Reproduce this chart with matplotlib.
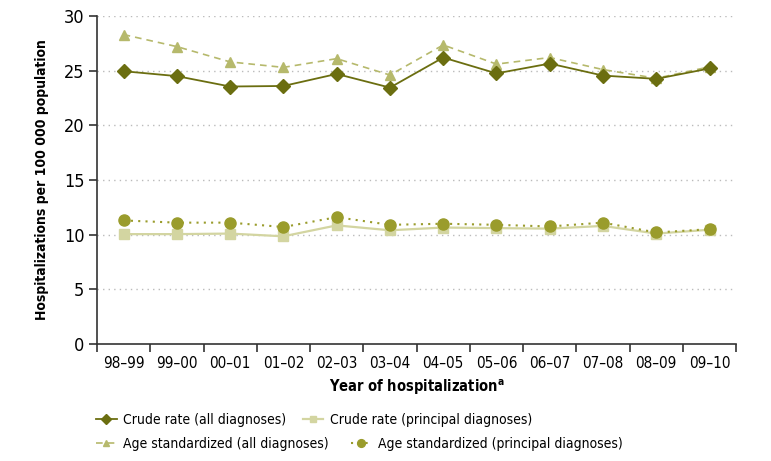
import numpy as np
import matplotlib
matplotlib.use("Agg")
import matplotlib.pyplot as plt

plt.rcParams['font.family'] = ['DejaVu Sans']
plt.rcParams['font.stretch'] = 'condensed'

years = ['98\u201399', '99\u201300', '00\u201301', '01\u201302', '02\u201303', '03\u201304',
         '04\u201305', '05\u201306', '06\u201307', '07\u201308', '08\u201309', '09\u201310']

crude_all = [24.95, 24.5, 23.55, 23.6, 24.7, 23.45, 26.2, 24.75, 25.65, 24.55, 24.25, 25.2]
crude_principal = [10.05, 10.05, 10.1, 9.85, 10.85, 10.4, 10.65, 10.6, 10.55, 10.8, 10.1, 10.45]
agestd_all = [28.3, 27.2, 25.8, 25.3, 26.1, 24.6, 27.35, 25.6, 26.2, 25.1, 24.3, 25.35]
agestd_principal = [11.3, 11.1, 11.1, 10.7, 11.6, 10.9, 11.0, 10.9, 10.75, 11.1, 10.2, 10.5]

x = np.arange(len(years))

fig = plt.figure(figsize=(7.71, 4.61), dpi=100)
ax = fig.add_axes([0.1258, 0.2538, 0.829, 0.7115])

l1, = ax.plot(x, crude_all, color='#6b6e10', lw=1.3, ls='-', marker='D', ms=7,
              label='Crude rate (all diagnoses)', zorder=4)
l2, = ax.plot(x, crude_principal, color='#d3d5a1', lw=1.6, ls='-', marker='s', ms=7,
              label='Crude rate (principal diagnoses)', zorder=3)
l3, = ax.plot(x, agestd_all, color='#b6b96c', lw=1.2, ls=(0, (4, 3)), marker='^', ms=7,
              label='Age standardized (all diagnoses)', zorder=3)
l4, = ax.plot(x, agestd_principal, color='#9a9c2c', lw=1.5, ls=(0, (1, 2.5)), marker='o', ms=8,
              label='Age standardized (principal diagnoses)', zorder=4)

ax.set_xlim(-0.5, len(years) - 0.5)
ax.set_ylim(0, 30)
ax.set_yticks(np.arange(0, 31, 5))
for yv in range(5, 31, 5):
    ax.axhline(yv, color='#bbbbbb', lw=1.0, ls=(0, (1, 3)), zorder=1)

ax.set_xticks(x)
ax.set_xticklabels(years, fontsize=11)
ax.set_xticks(np.arange(-0.5, len(years), 1), minor=True)
ax.tick_params(axis='x', which='major', length=0, pad=9)
ax.tick_params(axis='x', which='minor', length=6, width=1.2, direction='out', color='#333333')
ax.tick_params(axis='y', length=6, width=1.2, labelsize=13, color='#333333', pad=3)

for s in ['top', 'right']:
    ax.spines[s].set_visible(False)
for s in ['left', 'bottom']:
    ax.spines[s].set_color('#333333')
    ax.spines[s].set_linewidth(1.2)

ax.set_ylabel('Hospitalizations per 100 000 population', fontsize=10, fontweight='bold', labelpad=11)
ax.set_xlabel('Year of hospitalization$^{\\mathregular{a}}$', fontsize=10.5, fontweight='bold', labelpad=4)

# two legend rows that flow like the reference (columns not aligned)
leg_kw = dict(loc='center left', ncol=2, frameon=False, fontsize=10,
              handlelength=1.5, handletextpad=0.45, markerscale=0.7,
              borderaxespad=0, borderpad=0)
leg1 = ax.legend([l1, l2], [l1.get_label(), l2.get_label()],
                 bbox_to_anchor=(-0.002, -0.232), columnspacing=1.2, **leg_kw)
ax.add_artist(leg1)
ax.legend([l3, l4], [l3.get_label(), l4.get_label()],
          bbox_to_anchor=(-0.002, -0.305), columnspacing=1.6, **leg_kw)

fig.savefig('out.png', dpi=100)
